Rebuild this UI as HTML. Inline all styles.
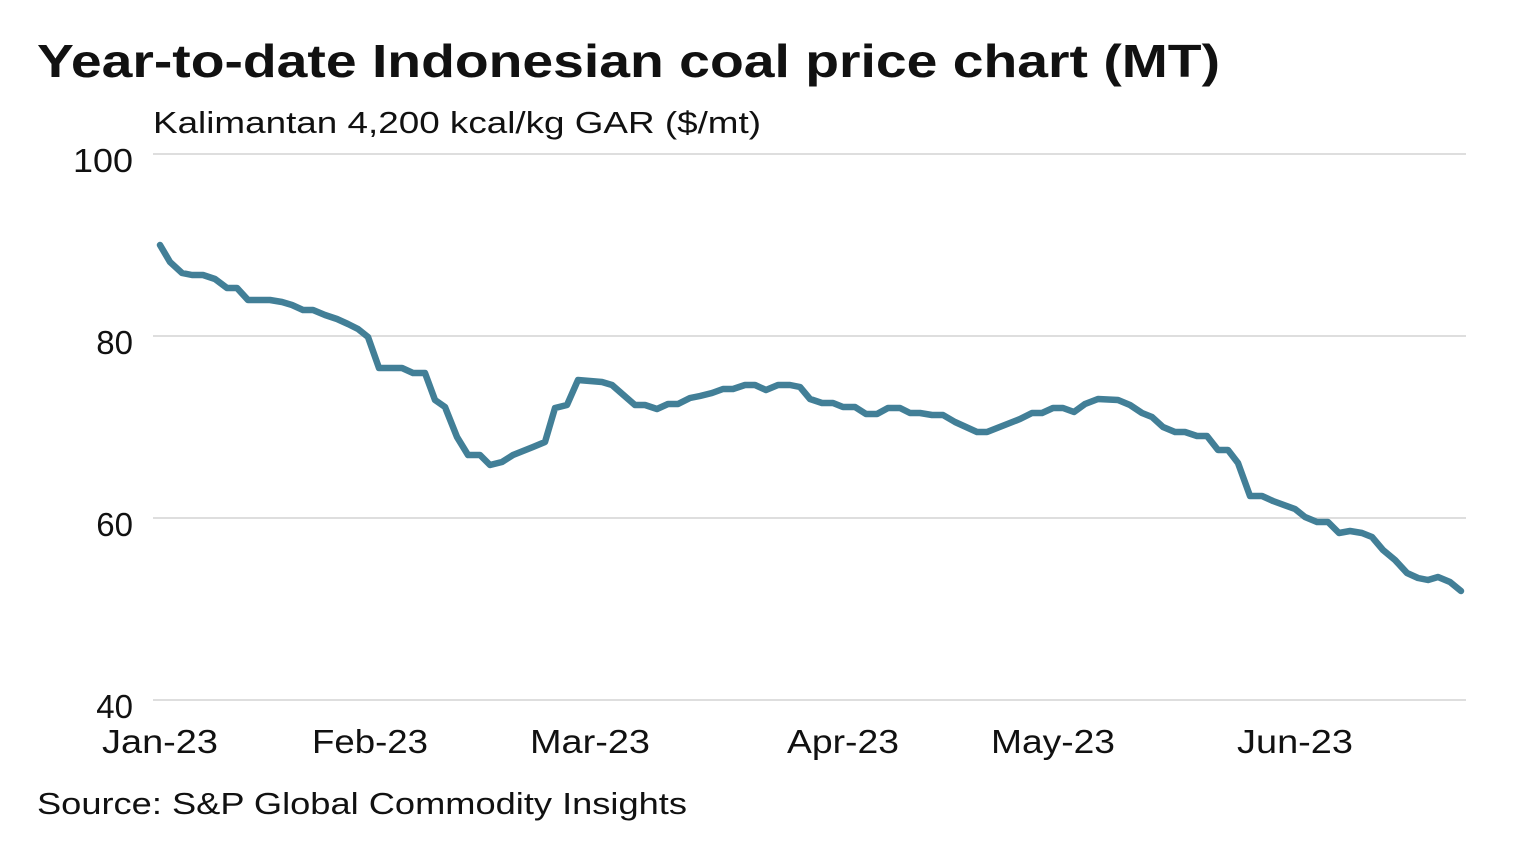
<!DOCTYPE html>
<html><head><meta charset="utf-8"><style>
body{margin:0;background:#fff;width:1520px;height:844px;overflow:hidden}
svg text{font-family:"Liberation Sans",sans-serif;fill:#111}
</style></head><body>
<svg width="1520" height="844" viewBox="0 0 1520 844">
<text x="37" y="77" font-size="46" font-weight="bold" textLength="1183" lengthAdjust="spacingAndGlyphs">Year-to-date Indonesian coal price chart (MT)</text>
<text x="153" y="133" font-size="31" textLength="608" lengthAdjust="spacingAndGlyphs">Kalimantan 4,200 kcal/kg GAR ($/mt)</text>
<g stroke="#d4d4d4" stroke-width="1.5">
<line x1="153" y1="154" x2="1466" y2="154"/><line x1="153" y1="336" x2="1466" y2="336"/>
<line x1="153" y1="518" x2="1466" y2="518"/><line x1="153" y1="700" x2="1466" y2="700"/>
</g>
<g font-size="33" text-anchor="end">
<text x="133" y="172" textLength="60" lengthAdjust="spacingAndGlyphs">100</text><text x="133" y="354">80</text><text x="133" y="536">60</text><text x="133" y="718">40</text>
</g>
<g font-size="33">
<text x="102" y="753" textLength="116" lengthAdjust="spacingAndGlyphs">Jan-23</text>
<text x="312" y="753" textLength="116" lengthAdjust="spacingAndGlyphs">Feb-23</text>
<text x="530" y="753" textLength="120" lengthAdjust="spacingAndGlyphs">Mar-23</text>
<text x="787" y="753" textLength="112" lengthAdjust="spacingAndGlyphs">Apr-23</text>
<text x="991" y="753" textLength="124" lengthAdjust="spacingAndGlyphs">May-23</text>
<text x="1237" y="753" textLength="116" lengthAdjust="spacingAndGlyphs">Jun-23</text>
</g>
<text x="37" y="814" font-size="31" textLength="650" lengthAdjust="spacingAndGlyphs">Source: S&amp;P Global Commodity Insights</text>
<polyline fill="none" stroke="#427f97" stroke-width="6.5" stroke-linejoin="round" stroke-linecap="round" points="160,245 170,262 182,273 192,275 203,275 215,279 227,288 237,288 248,300 270,300 282,302 292,305 303,310 313,310 325,315 337,319 348,324 358,329 368,337 379,368 402,368 413,373 425,373 435,400 445,407 457,437 468,455 480,455 490,465 502,462 513,455 533,447 545,442 555,408 567,405 578,380 602,382 612,385 635,405 645,405 657,409 668,404 678,404 690,398 700,396 712,393 723,389 733,389 745,385 755,385 766,390 778,385 790,385 800,387 810,399 822,403 833,403 843,407 855,407 866,414 877,414 888,408 900,408 910,413 920,413 932,415 943,415 955,422 977,432 987,432 1020,419 1032,413 1042,413 1053,408 1063,408 1074,412 1085,404 1098,399 1118,400 1130,405 1142,413 1152,417 1163,427 1175,432 1185,432 1197,436 1207,436 1218,450 1228,450 1238,463 1250,496 1262,496 1273,501 1295,509 1305,517 1317,522 1328,522 1339,533 1350,531 1362,533 1372,537 1383,550 1395,560 1407,573 1418,578 1428,580 1438,577 1450,582 1461,591"/>
</svg>
</body></html>
